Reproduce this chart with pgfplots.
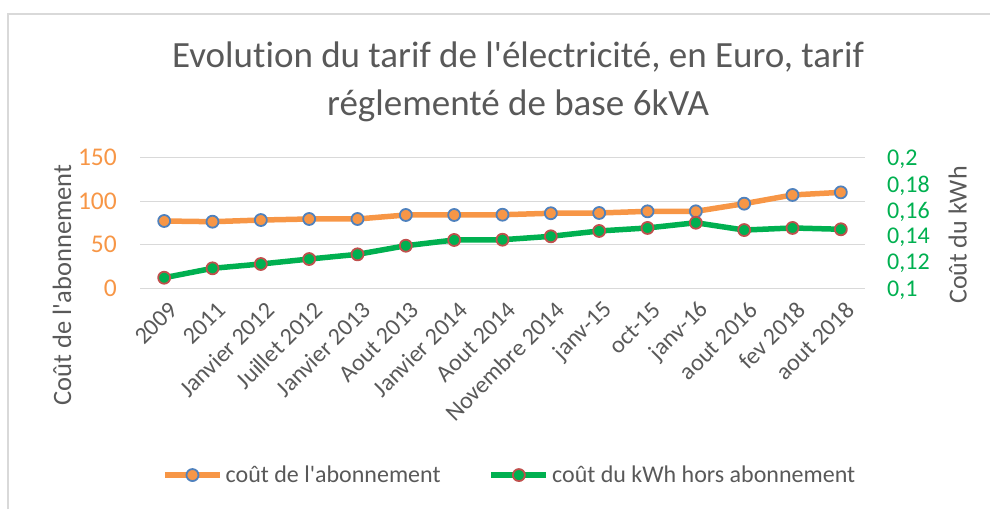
\documentclass[border=0pt]{standalone}
\usepackage{fontspec}
\setmainfont{Carlito}[Ligatures={NoCommon}]
\usepackage{pgfplots}
\pgfplotsset{compat=1.18}
\definecolor{txtgray}{HTML}{595959}
\definecolor{gridgray}{HTML}{D9D9D9}
\definecolor{xlorange}{HTML}{F79646}
\definecolor{xlblue}{HTML}{4F81BD}
\definecolor{xlgreen}{HTML}{00B050}
\definecolor{xlred}{HTML}{C0504D}
\begin{document}
\begin{tikzpicture}[x=1pt,y=1pt]
\path[use as bounding box] (0,0) rectangle (990,509);
\draw[gridgray, line width=1.2pt] (8,0) -- (8,495) -- (990,495);
\pgfplotsset{
  myaxis/.style={
    scale only axis, width=725pt, height=130.6pt,
    at={(140pt,220.7pt)}, anchor=south west,
    xmin=-0.5, xmax=14.5,
    axis line style={draw=none}, tick style={draw=none},
    major tick length=0pt,
    /pgf/number format/assume math mode=true,
    every axis plot/.append style={line width=5.5pt, line join=round},
  },
}
\begin{axis}[myaxis,
  ymin=0, ymax=150, ytick={0,50,100,150},
  ymajorgrids, grid style={gridgray, line width=1.2pt},
  yticklabel style={anchor=east, inner sep=0pt, xshift=-23pt, text=xlorange, font=\fontsize{25.5}{25.5}\selectfont},
  xtick={0,...,14},
  xticklabels={2009,2011,Janvier 2012,Juillet 2012,Janvier 2013,Aout 2013,Janvier 2014,Aout 2014,Novembre 2014,janv-15,oct-15,janv-16,aout 2016,fev 2018,aout 2018},
  xticklabel style={rotate=45, anchor=east, inner sep=0pt, xshift=-6pt, yshift=-19pt, text=txtgray, font=\fontsize{24}{24}\selectfont},
  ylabel={Coût de l\textquotesingle abonnement},
  ylabel style={at={(axis description cs:-0.1076,0.025)}, anchor=center, text=txtgray, font=\fontsize{26.5}{26.5}\selectfont},
  title={Evolution du tarif de l\textquotesingle électricité, en Euro, tarif\\réglementé de base 6kVA},
  title style={at={(axis description cs:0.5214,1.537)}, anchor=center, align=center, text=txtgray, font=\fontsize{37}{48}\selectfont},
]
\addplot[xlorange, mark=*, mark size=6pt, mark options={fill=xlorange, draw=xlblue, line width=1.8pt}]
coordinates {(0,77.3)(1,76.5)(2,78.4)(3,79.6)(4,79.6)(5,84.2)(6,84.2)(7,84.5)(8,86.2)(9,86.5)(10,88.4)(11,88.4)(12,97.2)(13,107.2)(14,110.2)};
\end{axis}
\begin{axis}[myaxis,
  ymin=0.1, ymax=0.2, ytick={0.1,0.12,0.14,0.16,0.18,0.2},
  yticklabels={{0,1},{0,12},{0,14},{0,16},{0,18},{0,2}},
  axis y line*=right, axis x line=none,
  yticklabel style={anchor=west, inner sep=0pt, xshift=22pt, text=xlgreen, font=\fontsize{24}{24}\selectfont, text depth=0pt},
  xtick=\empty,
  ylabel={Coût du kWh},
  ylabel style={at={(axis description cs:1.128,0.408)}, anchor=center, rotate=0, text=txtgray, font=\fontsize{26}{26}\selectfont},
  legend columns=2,
  legend style={draw=none, fill=none, at={(axis description cs:0.510,-1.43)}, anchor=center,
    font=\fontsize{24}{24}\selectfont, text=txtgray,
    /tikz/every odd column/.append style={column sep=1pt},
    /tikz/every even column/.append style={column sep=46pt}},
  legend image code/.code={\draw[#1, line width=5.5pt, mark repeat=2, mark phase=2] plot coordinates {(0pt,0pt)(27.5pt,0pt)(55pt,0pt)};},
]
\addlegendimage{xlorange, mark=*, mark size=6pt, mark options={fill=xlorange, draw=xlblue, line width=1.8pt}}
\addlegendentry{coût de l\textquotesingle abonnement}
\addplot[xlgreen, mark=*, mark size=6pt, mark options={fill=xlgreen, draw=xlred, line width=1.8pt}]
coordinates {(0,0.1081)(1,0.1153)(2,0.1186)(3,0.1224)(4,0.1260)(5,0.1326)(6,0.1370)(7,0.1372)(8,0.1398)(9,0.1439)(10,0.1462)(11,0.1502)(12,0.1446)(13,0.1462)(14,0.1452)};
\addlegendentry{coût du kWh hors abonnement}
\end{axis}
\end{tikzpicture}
\end{document}
